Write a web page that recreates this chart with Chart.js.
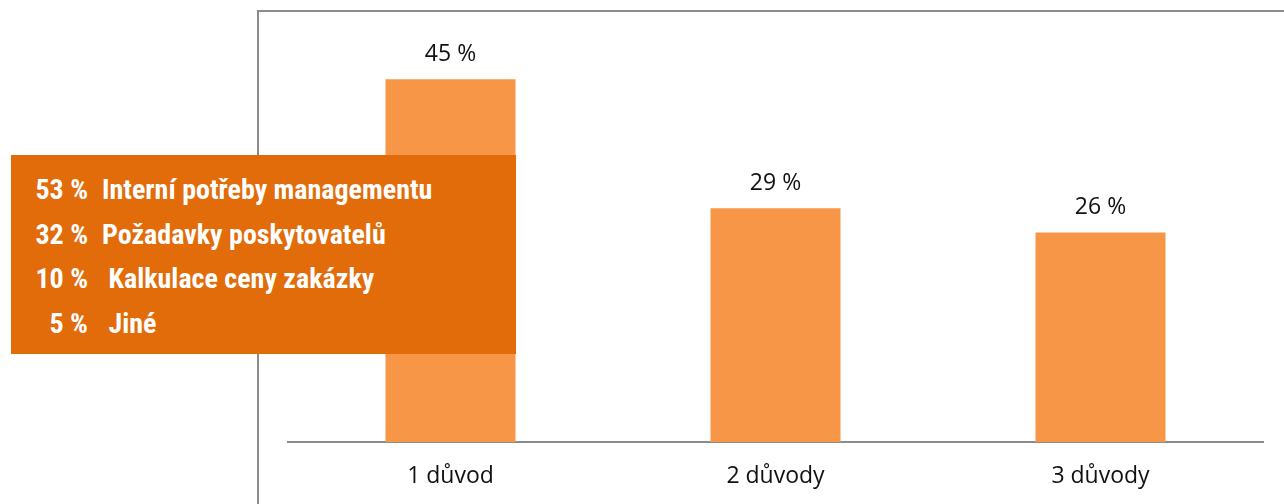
<!DOCTYPE html>
<html lang="cs">
<head>
<meta charset="utf-8">
<title>Počet důvodů</title>
<script src="https://cdn.jsdelivr.net/npm/chart.js@4/dist/chart.umd.min.js"></script>
<style>
  html, body { margin: 0; padding: 0; background: #fff; }
  #wrap { position: relative; width: 1284px; height: 504px; overflow: hidden; }
  #frame {
    position: absolute; left: 257px; top: 10px; width: 1100px; height: 600px;
    border-left: 2px solid #8c8c8c; border-top: 2px solid #8c8c8c;
  }
  #reasonChart { position: absolute; left: 0; top: 0; }
  #reasonBox {
    position: absolute; left: 11px; top: 155px; width: 505px; height: 199px;
    background: #e26b0a; color: #fff;
    font-family: "Liberation Sans Narrow", "Arial Narrow", "Roboto Condensed", sans-serif;
    font-weight: bold; font-size: 28px;
  }
  #reasonBox .row { position: absolute; left: 0; height: 32px; line-height: 32px; white-space: pre; }
  #reasonBox .pct { position: absolute; left: 0; width: 77px; text-align: right; }
  #reasonBox .lbl { position: absolute; left: 91px; }
</style>
</head>
<body>
<div id="wrap">
  <div id="frame"></div>
  <canvas id="reasonChart" width="1284" height="504"></canvas>
  <div id="reasonBox"></div>
</div>
<script>
// počet uvedených důvodů
const categories = ["1 důvod", "2 důvody", "3 důvody"];
const shares = [45, 29, 26];

// důvody zavedení
const reasonPct = ["53 %", "32 %", "10 %", "5 %"];
const reasonLabels = ["Interní potřeby managementu", "Požadavky poskytovatelů", " Kalkulace ceny zakázky", " Jiné"];

const box = document.getElementById("reasonBox");
reasonPct.forEach((p, i) => {
  const row = document.createElement("div");
  row.className = "row";
  row.style.top = (19 + i * 44.5) + "px";
  const a = document.createElement("span");
  a.className = "pct";
  a.textContent = p;
  const b = document.createElement("span");
  b.className = "lbl";
  b.textContent = reasonLabels[i];
  row.appendChild(a);
  row.appendChild(b);
  box.appendChild(row);
});

// popisky hodnot nad sloupci
const valueLabels = {
  id: "valueLabels",
  afterDatasetsDraw(chart) {
    const ctx = chart.ctx;
    const meta = chart.getDatasetMeta(0);
    ctx.save();
    ctx.font = "23px 'Open Sans', 'Noto Sans', sans-serif";
    ctx.fillStyle = "#111";
    ctx.textAlign = "center";
    ctx.textBaseline = "alphabetic";
    meta.data.forEach((bar, i) => {
      ctx.fillText(shares[i] + " %", bar.x, bar.y - 18);
    });
    ctx.restore();
  }
};

new Chart(document.getElementById("reasonChart"), {
  type: "bar",
  data: {
    labels: categories,
    datasets: [{
      data: shares,
      backgroundColor: "#f79646",
      borderWidth: 0,
      categoryPercentage: 1,
      barPercentage: 0.4
    }]
  },
  options: {
    responsive: false,
    animation: false,
    layout: { padding: { left: 288, right: 21, top: 39, bottom: 15 } },
    scales: {
      x: {
        grid: { display: false, drawTicks: false },
        border: { display: true, color: "#8c8c8c", width: 2 },
        ticks: {
          padding: 21,
          color: "#111",
          font: { size: 23, family: "'Open Sans', 'Noto Sans', sans-serif" }
        },
        afterFit(scale) { scale.height = 47; }
      },
      y: { display: false, min: 0, max: 50 }
    },
    plugins: {
      legend: { display: false },
      tooltip: { enabled: false }
    }
  },
  plugins: [valueLabels]
});
</script>
</body>
</html>
